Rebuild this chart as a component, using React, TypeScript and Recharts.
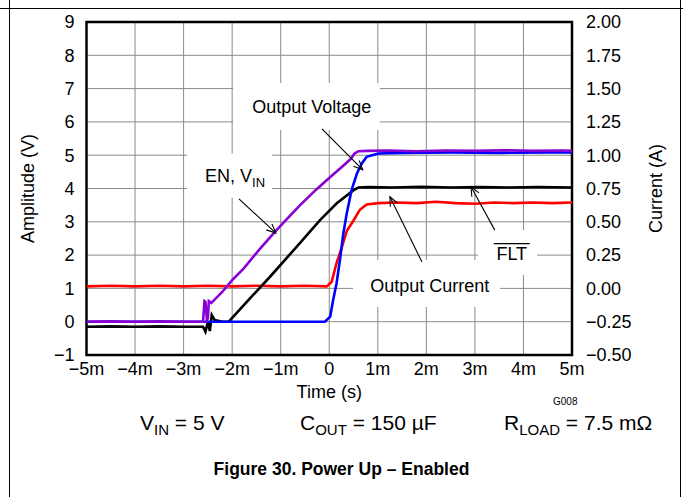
import React from 'react';
import {
  LineChart,
  Line,
  XAxis,
  YAxis,
  CartesianGrid,
  ReferenceArea,
  ReferenceLine,
  ReferenceDot,
} from 'recharts';

// time in ms, amplitude in V, current in A
const timeTicks = [-5, -4, -3, -2, -1, 0, 1, 2, 3, 4, 5];
const voltTicks = [-1, 0, 1, 2, 3, 4, 5, 6, 7, 8, 9];
const ampTicks = [-0.5, -0.25, 0, 0.25, 0.5, 0.75, 1, 1.25, 1.5, 1.75, 2];

const enTime = [-5, -4.5, -4, -3.5, -3, -2.6, -2.57, -2.55, -2.52, -2.5, -2.48, -2.46, -2.43, -2.2, -2.0, -1.76, -1.45, -1.12, -0.85, -0.6, -0.26, 0.08, 0.3, 0.45, 0.52, 0.6, 0.8, 1.2, 1.8, 2.4, 3.0, 3.6, 4.2, 4.8, 5];
const enVolts = [0, 0.01, 0, 0.01, 0, 0, 0.62, 0.6, 0.05, 0.1, 0.62, 0.6, 0.56, 0.9, 1.25, 1.6, 2.15, 2.7, 3.12, 3.5, 3.98, 4.42, 4.7, 4.9, 5.05, 5.12, 5.13, 5.14, 5.12, 5.14, 5.13, 5.15, 5.13, 5.14, 5.13];

const outTime = [-5, -3, -1, -0.09, 0.02, 0.08, 0.15, 0.22, 0.29, 0.36, 0.46, 0.57, 0.67, 0.77, 1.01, 1.5, 2.5, 3.5, 4.5, 5];
const outVolts = [0, 0, 0, 0, 0.15, 0.65, 1.15, 1.85, 2.65, 3.25, 3.95, 4.45, 4.75, 4.95, 5.05, 5.07, 5.08, 5.07, 5.08, 5.08];

const fltTime = [-5, -4.5, -4, -3.5, -3, -2.6, -2.55, -2.5, -2.46, -2.42, -2.36, -2.2, -2.07, -1.6, -1.22, -0.61, -0.19, 0.15, 0.5, 0.6, 0.8, 1.3, 1.9, 2.5, 3.1, 3.7, 4.3, 5];
const fltVolts = [-0.15, -0.14, -0.15, -0.14, -0.15, -0.15, -0.3, 0.0, -0.28, 0.2, 0.05, 0.0, 0.0, 0.75, 1.35, 2.35, 3.05, 3.55, 3.95, 4.03, 4.04, 4.03, 4.05, 4.03, 4.04, 4.03, 4.04, 4.03];

const curTime = [-5, -4.5, -4, -3.5, -3, -2.5, -2, -1.5, -1, -0.5, -0.05, 0.05, 0.15, 0.26, 0.36, 0.5, 0.63, 0.77, 1.01, 1.4, 1.8, 2.2, 2.6, 3.0, 3.4, 3.8, 4.2, 4.6, 5];
const curAmps = [0.015, 0.02, 0.015, 0.02, 0.015, 0.02, 0.015, 0.02, 0.015, 0.02, 0.015, 0.05, 0.19, 0.31, 0.43, 0.51, 0.59, 0.63, 0.64, 0.645, 0.64, 0.65, 0.64, 0.635, 0.645, 0.64, 0.645, 0.64, 0.645];

const zip = (t: number[], v: number[]) => t.map((x, i) => ({ t: x, v: v[i] }));

const enData = zip(enTime, enVolts);
const outData = zip(outTime, outVolts);
const fltData = zip(fltTime, fltVolts);
const curData = zip(curTime, curAmps);

const FONT = '"Liberation Sans", Arial, sans-serif';
const GRID = '#8a8a8a';
const FS = 18;

const fmtTime = (v: number) => (v === 0 ? '0' : `${v < 0 ? '\u2212' : ''}${Math.abs(v)}m`);
const fmtVolt = (v: number) => (v < 0 ? `\u2212${Math.abs(v)}` : `${v}`);
const fmtAmp = (v: number) => (v < 0 ? `\u2212${Math.abs(v).toFixed(2)}` : v.toFixed(2));

// annotation boxes (white, hide the grid behind the labels)
const boxes = [
  { x1: -1.98, x2: 1.04, y1: 5.76, y2: 7.17 },
  { x1: -2.93, x2: -1.18, y1: 3.72, y2: 5.05 },
  { x1: 0.49, x2: 3.52, y1: 0.44, y2: 1.85 },
  { x1: 3.06, x2: 4.28, y1: 1.4, y2: 2.75 },
];

const arrows = [
  [{ x: -0.15, y: 5.79 }, { x: 0.69, y: 4.56 }],
  [{ x: -1.86, y: 3.69 }, { x: -1.1, y: 2.66 }],
  [{ x: 3.41, y: 2.75 }, { x: 2.92, y: 4.05 }],
  [{ x: 1.91, y: 1.79 }, { x: 1.25, y: 3.75 }],
];

const ArrowShape = (p: any) => {
  const { x1, y1, x2, y2 } = p;
  const ang = Math.atan2(y2 - y1, x2 - x1);
  const L = 10;
  const a = 0.42;
  const ax = x2 - L * Math.cos(ang - a);
  const ay = y2 - L * Math.sin(ang - a);
  const bx = x2 - L * Math.cos(ang + a);
  const by = y2 - L * Math.sin(ang + a);
  return (
    <g stroke="#000" strokeWidth={1.1} fill="none">
      <line x1={x1} y1={y1} x2={x2} y2={y2} />
      <polyline points={`${ax},${ay} ${x2},${y2} ${bx},${by}`} />
    </g>
  );
};

const textLabel = (kind: string) => (p: any) => {
  const vb = p.viewBox || {};
  const x = vb.x + (vb.width || 0) / 2;
  const y = vb.y + (vb.height || 0) / 2;
  const common = { fontFamily: FONT, fontSize: FS, fill: '#000', textAnchor: 'middle' as const };
  if (kind === 'en') {
    return (
      <text x={x} y={y + 6} {...common}>
        EN, V<tspan dy={5} fontSize={13}>IN</tspan>
      </text>
    );
  }
  if (kind === 'flt') {
    return (
      <g>
        <text x={x} y={y + 6.5} {...common}>FLT</text>
        <line x1={x - 18} x2={x + 18} y1={y - 9.5} y2={y - 9.5} stroke="#000" strokeWidth={1.2} />
      </g>
    );
  }
  return (
    <text x={x} y={y + 6.5} {...common}>{kind}</text>
  );
};

const labels = [
  { x: -0.36, y: 6.45, kind: 'Output Voltage' },
  { x: -1.94, y: 4.37, kind: 'en' },
  { x: 3.76, y: 2.06, kind: 'flt' },
  { x: 2.07, y: 1.1, kind: 'Output Current' },
];

const tickStyle = { fontFamily: FONT, fontSize: FS, fill: '#000' };

const LeftTitle = (p: any) => {
  const vb = p.viewBox;
  const cx = vb.x + 1;
  const cy = vb.y + vb.height / 2;
  return (
    <text x={cx} y={cy} transform={`rotate(-90 ${cx} ${cy})`} textAnchor="middle" dominantBaseline="central" fontFamily={FONT} fontSize={FS}>
      Amplitude (V)
    </text>
  );
};

const RightTitle = (p: any) => {
  const vb = p.viewBox;
  const cx = vb.x + 84;
  const cy = vb.y + vb.height / 2;
  return (
    <text x={cx} y={cy} transform={`rotate(-90 ${cx} ${cy})`} textAnchor="middle" dominantBaseline="central" fontFamily={FONT} fontSize={FS}>
      Current (A)
    </text>
  );
};

const BottomTitle = (p: any) => {
  const vb = p.viewBox;
  return (
    <text x={vb.x + vb.width / 2} y={vb.y + 43} textAnchor="middle" fontFamily={FONT} fontSize={FS}>
      Time (s)
    </text>
  );
};

const subStyle = { fontSize: 15, verticalAlign: 'baseline', position: 'relative' as const, top: 5 };

export default function App() {
  return (
    <div style={{ position: 'absolute', left: 0, top: 0, width: 683, height: 497, background: '#fff', fontFamily: FONT, color: '#000' }}>
      <div style={{ position: 'absolute', left: 0, top: 8, width: 683, height: 1, background: '#000' }} />
      <div style={{ position: 'absolute', left: 9, top: 0, width: 1, height: 497, background: '#000' }} />
      <div style={{ position: 'absolute', left: 680, top: 0, width: 1, height: 497, background: '#000' }} />
      <LineChart width={683} height={497} margin={{ top: 22, right: 41, bottom: 112, left: 26.5 }}>
        <CartesianGrid yAxisId="left" stroke={GRID} strokeWidth={1} />
        <XAxis
          type="number"
          dataKey="t"
          domain={[-5, 5]}
          ticks={timeTicks}
          tickFormatter={fmtTime}
          tick={tickStyle}
          tickLine={false}
          axisLine={false}
          tickSize={0}
          tickMargin={7}
          height={30}
          allowDataOverflow
          label={BottomTitle}
        />
        <YAxis
          yAxisId="left"
          type="number"
          domain={[-1, 9]}
          ticks={voltTicks}
          tickFormatter={fmtVolt}
          tick={tickStyle}
          tickLine={false}
          axisLine={false}
          tickSize={0}
          tickMargin={12}
          width={60}
          allowDataOverflow
          label={LeftTitle}
        />
        <YAxis
          yAxisId="right"
          orientation="right"
          type="number"
          domain={[-0.5, 2]}
          ticks={ampTicks}
          tickFormatter={fmtAmp}
          tick={tickStyle}
          tickLine={false}
          axisLine={false}
          tickSize={0}
          tickMargin={14}
          width={70}
          allowDataOverflow
          label={RightTitle}
        />
        {boxes.map((b, i) => (
          <ReferenceArea key={`box${i}`} yAxisId="left" x1={b.x1} x2={b.x2} y1={b.y1} y2={b.y2} fill="#fff" fillOpacity={1} stroke="none" />
        ))}
        <Line yAxisId="right" data={curData} dataKey="v" type="linear" stroke="#ff0000" strokeWidth={2.6} dot={false} isAnimationActive={false} />
        <Line yAxisId="left" data={fltData} dataKey="v" type="linear" stroke="#000000" strokeWidth={2.6} dot={false} isAnimationActive={false} />
        <Line yAxisId="left" data={outData} dataKey="v" type="linear" stroke="#0000ff" strokeWidth={2.6} dot={false} isAnimationActive={false} />
        <Line yAxisId="left" data={enData} dataKey="v" type="linear" stroke="#8a00d4" strokeWidth={2.6} dot={false} isAnimationActive={false} />
        {arrows.map((s, i) => (
          <ReferenceLine key={`arr${i}`} yAxisId="left" segment={s} shape={ArrowShape} />
        ))}
        {labels.map((l, i) => (
          <ReferenceDot key={`lab${i}`} yAxisId="left" x={l.x} y={l.y} r={0} fill="none" stroke="none" label={textLabel(l.kind)} />
        ))}
        <ReferenceArea yAxisId="left" x1={-5} x2={5} y1={-1} y2={9} fill="none" stroke="#000" strokeWidth={2.5} ifOverflow="visible" />
      </LineChart>
      <div style={{ position: 'absolute', left: 553, top: 396, fontSize: 10 }}>G008</div>
      <div style={{ position: 'absolute', left: 140, top: 411, fontSize: 21, lineHeight: '24px' }}>
        V<span style={subStyle}>IN</span> = 5 V
      </div>
      <div style={{ position: 'absolute', left: 300, top: 411, fontSize: 21, lineHeight: '24px' }}>
        C<span style={subStyle}>OUT</span> = 150 µF
      </div>
      <div style={{ position: 'absolute', left: 504, top: 411, fontSize: 21, lineHeight: '24px' }}>
        R<span style={subStyle}>LOAD</span> = 7.5 mΩ
      </div>
      <div style={{ position: 'absolute', left: 0, width: 683, top: 459, fontSize: 17.5, fontWeight: 'bold', textAlign: 'center' }}>
        Figure 30. Power Up – Enabled
      </div>
    </div>
  );
}
